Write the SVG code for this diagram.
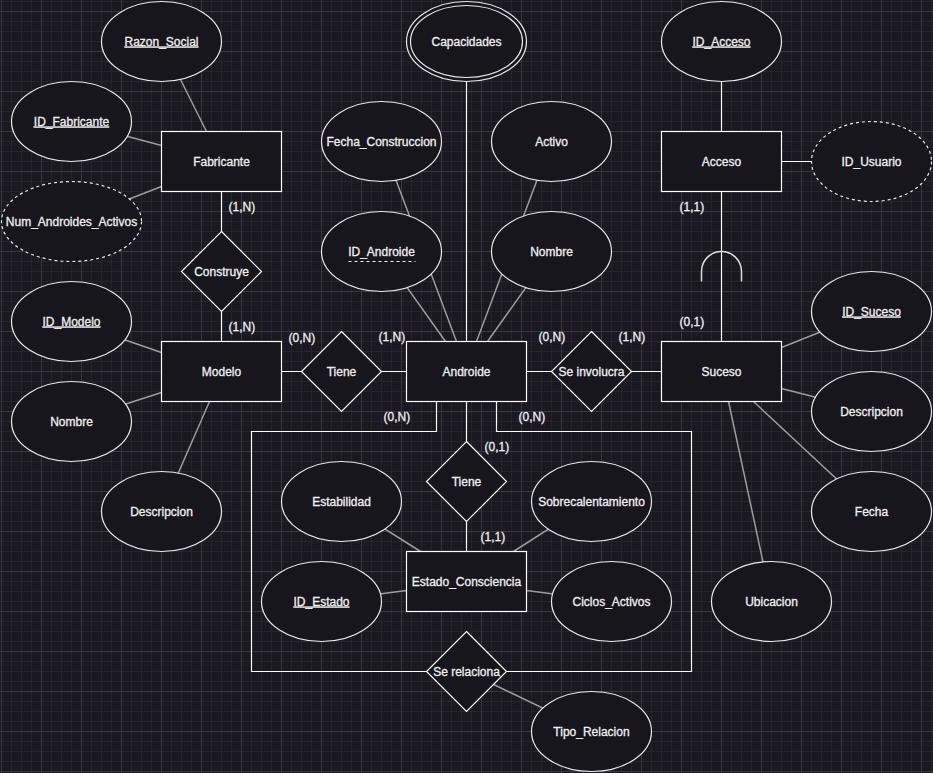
<svg xmlns="http://www.w3.org/2000/svg" width="933" height="773" viewBox="0 0 933 773">
<defs>
<pattern id="grid" x="1" y="11" width="40" height="40" patternUnits="userSpaceOnUse">
<path d="M0.5,0V40M10.5,0V40M20.5,0V40M30.5,0V40M0,0.5H40M0,10.5H40M0,20.5H40M0,30.5H40" stroke="#25232c" stroke-width="1" fill="none"/>
<path d="M0.5,0V40M0,0.5H40" stroke="#393741" stroke-width="1" fill="none"/>
</pattern>
<style>
.ent{fill:#18161d;stroke:#ffffff;stroke-width:1.2}
.att{fill:#18161d;stroke:#e8e8e8;stroke-width:1.2}
.dash{stroke-dasharray:3 3}
.rel{fill:#18161d;stroke:#ffffff;stroke-width:1.2}
.c{fill:none;stroke:#ffffff;stroke-width:1.2}
.a{fill:none;stroke:#9c9c9c;stroke-width:1.5}
text{font-family:"Liberation Sans",Arial,sans-serif;font-size:12px;fill:#f0f0f0;stroke:#f0f0f0;stroke-width:0.3}
.m{text-anchor:middle}
.u{text-decoration:underline}
</style>
</defs>
<rect x="0" y="0" width="933" height="773" fill="#1a1820"/>
<rect x="0" y="0" width="933" height="773" fill="url(#grid)"/>
<g transform="translate(0.5,0.5)">
<g id="connectors">
<path class="a" d="M161,41L206,131M71,121L161,145M71,221L161,186M71,321L161,352M71,421L161,392M161,511L209,401M381,141L456,341M381,251L445,341M551,141L476,341M551,251L487,341M871,311L781,347M871,411L781,388M871,511L753,401M771,601L728,401M341,501L420,551M591,501L513,551M321,601L406,590M611,601L526,590M466,671L591,731"/>
<path class="c" d="M221,191V231M221,311V341M281,371H301M381,371H406M526,371H551M631,371H661M466,81V341M466,401V441M466,521V551M436,401V431H251V671H426M496,401V431H691V671H506M721,81V131M781,161H811M721,191V341"/>
<path d="M701,281V271A20,20 0 0 1 741,271V281" fill="none" stroke="#dddddd" stroke-width="1.5"/>
<text x="228" y="210">(1,N)</text>
<text x="228" y="330">(1,N)</text>
<text x="288" y="341">(0,N)</text>
<text x="378" y="340">(1,N)</text>
<text x="538" y="340">(0,N)</text>
<text x="618" y="340">(1,N)</text>
<text x="383" y="420">(0,N)</text>
<text x="518" y="420">(0,N)</text>
<text x="484" y="450">(0,1)</text>
<text x="480" y="540">(1,1)</text>
<text x="679" y="210">(1,1)</text>
<text x="679" y="325">(0,1)</text>
</g>
<g id="razon_social"><ellipse class="att" cx="161" cy="41" rx="60" ry="40"/><text class="m u" x="161" y="45">Razon_Social</text></g>
<g id="id_fabricante"><ellipse class="att" cx="71" cy="121" rx="60" ry="40"/><text class="m u" x="71" y="125">ID_Fabricante</text></g>
<g id="num_androides"><ellipse class="att dash" cx="71" cy="221" rx="70" ry="40"/><text class="m" x="71" y="225">Num_Androides_Activos</text></g>
<g id="fabricante"><rect class="ent" x="161" y="131" width="120" height="60"/><text class="m" x="221" y="165">Fabricante</text></g>
<g id="construye"><path class="rel" d="M221,231L261,271L221,311L181,271Z"/><text class="m" x="221" y="275">Construye</text></g>
<g id="modelo"><rect class="ent" x="161" y="341" width="120" height="60"/><text class="m" x="221" y="375">Modelo</text></g>
<g id="id_modelo"><ellipse class="att" cx="71" cy="321" rx="60" ry="40"/><text class="m u" x="71" y="325">ID_Modelo</text></g>
<g id="nombre_modelo"><ellipse class="att" cx="71" cy="421" rx="60" ry="40"/><text class="m" x="71" y="425">Nombre</text></g>
<g id="descripcion_modelo"><ellipse class="att" cx="161" cy="511" rx="60" ry="40"/><text class="m" x="161" y="515">Descripcion</text></g>
<g id="tiene1"><path class="rel" d="M341,331L381,371L341,411L301,371Z"/><text class="m" x="341" y="375">Tiene</text></g>
<g id="capacidades"><ellipse class="att" cx="466" cy="41" rx="60" ry="40"/><ellipse class="att" cx="466" cy="41" rx="56" ry="36"/><text class="m" x="466" y="45">Capacidades</text></g>
<g id="fecha_construccion"><ellipse class="att" cx="381" cy="141" rx="60" ry="40"/><text class="m" x="381" y="145">Fecha_Construccion</text></g>
<g id="id_androide"><ellipse class="att" cx="381" cy="251" rx="60" ry="40"/><text class="m" x="381" y="255">ID_Androide</text><path d="M348,261H415" stroke="#f0f0f0" stroke-width="1" stroke-dasharray="3 3"/></g>
<g id="activo"><ellipse class="att" cx="551" cy="141" rx="60" ry="40"/><text class="m" x="551" y="145">Activo</text></g>
<g id="nombre_androide"><ellipse class="att" cx="551" cy="251" rx="60" ry="40"/><text class="m" x="551" y="255">Nombre</text></g>
<g id="androide"><rect class="ent" x="406" y="341" width="120" height="60"/><text class="m" x="466" y="375">Androide</text></g>
<g id="se_involucra"><path class="rel" d="M591,331L631,371L591,411L551,371Z"/><text class="m" x="591" y="375">Se involucra</text></g>
<g id="id_acceso"><ellipse class="att" cx="721" cy="41" rx="60" ry="40"/><text class="m u" x="721" y="45">ID_Acceso</text></g>
<g id="acceso"><rect class="ent" x="661" y="131" width="120" height="60"/><text class="m" x="721" y="165">Acceso</text></g>
<g id="id_usuario"><ellipse class="att dash" cx="871" cy="161" rx="60" ry="40"/><text class="m" x="871" y="165">ID_Usuario</text></g>
<g id="suceso"><rect class="ent" x="661" y="341" width="120" height="60"/><text class="m" x="721" y="375">Suceso</text></g>
<g id="id_suceso"><ellipse class="att" cx="871" cy="311" rx="60" ry="40"/><text class="m u" x="871" y="315">ID_Suceso</text></g>
<g id="descripcion_suceso"><ellipse class="att" cx="871" cy="411" rx="60" ry="40"/><text class="m" x="871" y="415">Descripcion</text></g>
<g id="fecha"><ellipse class="att" cx="871" cy="511" rx="60" ry="40"/><text class="m" x="871" y="515">Fecha</text></g>
<g id="ubicacion"><ellipse class="att" cx="771" cy="601" rx="60" ry="40"/><text class="m" x="771" y="605">Ubicacion</text></g>
<g id="tiene2"><path class="rel" d="M466,441L506,481L466,521L426,481Z"/><text class="m" x="466" y="485">Tiene</text></g>
<g id="estabilidad"><ellipse class="att" cx="341" cy="501" rx="60" ry="40"/><text class="m" x="341" y="505">Estabilidad</text></g>
<g id="sobrecalentamiento"><ellipse class="att" cx="591" cy="501" rx="60" ry="40"/><text class="m" x="591" y="505">Sobrecalentamiento</text></g>
<g id="estado_consciencia"><rect class="ent" x="406" y="551" width="120" height="60"/><text class="m" x="466" y="585">Estado_Consciencia</text></g>
<g id="id_estado"><ellipse class="att" cx="321" cy="601" rx="60" ry="40"/><text class="m u" x="321" y="605">ID_Estado</text></g>
<g id="ciclos_activos"><ellipse class="att" cx="611" cy="601" rx="60" ry="40"/><text class="m" x="611" y="605">Ciclos_Activos</text></g>
<g id="se_relaciona"><path class="rel" d="M466,631L506,671L466,711L426,671Z"/><text class="m" x="466" y="675">Se relaciona</text></g>
<g id="tipo_relacion"><ellipse class="att" cx="591" cy="731" rx="60" ry="40"/><text class="m" x="591" y="735">Tipo_Relacion</text></g>
</g>
</svg>
